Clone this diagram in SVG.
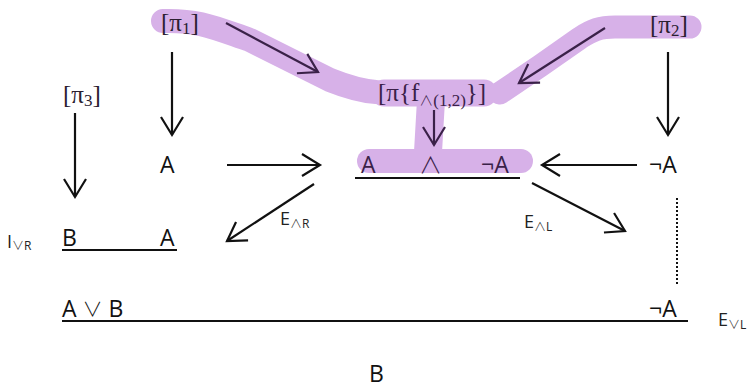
<svg xmlns="http://www.w3.org/2000/svg" width="747" height="390" viewBox="0 0 747 390">
<defs>
<marker id="ahd" markerUnits="userSpaceOnUse" markerWidth="24" markerHeight="26" refX="19" refY="12" orient="auto" overflow="visible">
<path d="M1,1 L19,12 L1,23" fill="none" stroke="#3a2148" stroke-width="2.2"/>
</marker>
<marker id="ahk" markerUnits="userSpaceOnUse" markerWidth="24" markerHeight="26" refX="19" refY="12" orient="auto" overflow="visible">
<path d="M1,1 L19,12 L1,23" fill="none" stroke="#111" stroke-width="2.2"/>
</marker>
</defs>
<style>
.hl{fill:none;stroke:#d7b1e8;stroke-linecap:round;stroke-linejoin:round}
.s{font-family:"Open Sans","Liberation Sans",sans-serif;font-size:23px;fill:#111}
.sd{fill:#3a2148}
.op{font-family:"Noto Sans CJK JP","DejaVu Sans",sans-serif;font-weight:300}
.r{font-family:"Liberation Serif","DejaVu Serif",serif;font-size:25px;fill:#2a2030}
.rd{fill:#3a2148}
.lb{font-family:"Open Sans","Liberation Sans",sans-serif;font-size:18px;fill:#222}
.sub{font-size:12px}
.ln{stroke:#111;stroke-width:2.2;fill:none}
.arr{stroke:#111;stroke-width:2.2;fill:none;marker-end:url(#ahk)}
.arrd{stroke:#3a2148;stroke-width:2.2;fill:none;marker-end:url(#ahd)}
</style>
<rect width="747" height="390" fill="#fff"/>
<g id="highlight">
<path class="hl" stroke-width="24" d="M163,21 C200,20 215,28 250,40 L330,80 C350,88 362,91 376,92"/>
<path class="hl" stroke-width="27" d="M384,93 L484,93"/>
<path class="hl" stroke-width="23" d="M500,93 L540,66 L580,38 C592,30 600,27 615,27 L690,27"/>
<path class="hl" stroke-width="28" d="M431,100 L428,152"/>
<path class="hl" stroke-width="24" d="M369,161 L521,161"/>
</g>
<g id="connectors">
<line class="arrd" x1="226" y1="23" x2="318" y2="72"/>
<line class="arrd" x1="605" y1="28" x2="519" y2="83"/>
<line class="arrd" x1="434" y1="110" x2="434" y2="145"/>
<line class="arr" x1="172" y1="52" x2="172" y2="135"/>
<line class="arr" x1="668" y1="52" x2="668" y2="135"/>
<line class="arr" x1="75" y1="113" x2="75" y2="197"/>
<line class="arr" x1="227" y1="165" x2="320" y2="165"/>
<line class="arr" x1="637" y1="165" x2="542" y2="165"/>
<line class="arr" x1="314" y1="184" x2="227" y2="241"/>
<line class="arr" x1="532" y1="183" x2="625" y2="231"/>
<line x1="677" y1="198" x2="677" y2="284" stroke="#111" stroke-width="2" stroke-dasharray="2,2"/>
<line class="ln" x1="355" y1="178" x2="520" y2="178"/>
<line class="ln" x1="62" y1="250" x2="177" y2="250"/>
<line class="ln" x1="62" y1="321" x2="688" y2="321"/>
</g>
<g id="pi1"><text class="r" x="161" y="31">[π<tspan font-size="17" dy="3">1</tspan><tspan dy="-3">]</tspan></text></g>
<g id="pi2"><text class="r" x="650" y="33">[π<tspan font-size="17" dy="3">2</tspan><tspan dy="-3">]</tspan></text></g>
<g id="pi3"><text class="r" x="63" y="103">[π<tspan font-size="17" dy="3">3</tspan><tspan dy="-3">]</tspan></text></g>
<g id="pif"><text class="r rd" x="378" y="101">[π{f<tspan class="op" font-size="14" dy="4">∧</tspan><tspan font-size="17" dy="1">(1,2)</tspan><tspan dy="-5">}]</tspan></text></g>
<g id="A1"><text class="s" x="160" y="173">A</text></g>
<g id="conj"><text class="s sd" x="361" y="173">A</text><text class="s sd op" x="419" y="173" font-size="20">∧</text><text class="s sd" x="481" y="173">¬A</text></g>
<g id="notA1"><text class="s" x="649" y="173">¬A</text></g>
<g id="BA"><text class="s" x="62" y="246">B</text><text class="s" x="160" y="246">A</text></g>
<g id="IvR"><text class="lb" x="7" y="248">I<tspan class="op sub" dy="2">∨</tspan><tspan class="sub">R</tspan></text></g>
<g id="EaR"><text class="lb" x="280" y="225">E<tspan class="op sub" dy="3">∧</tspan><tspan class="sub">R</tspan></text></g>
<g id="EaL"><text class="lb" x="524" y="228">E<tspan class="op sub" dy="3">∧</tspan><tspan class="sub">L</tspan></text></g>
<g id="AvB"><text class="s" x="62" y="317">A <tspan class="op" font-size="20">∨</tspan> B</text></g>
<g id="notA2"><text class="s" x="649" y="317">¬A</text></g>
<g id="EvL"><text class="lb" x="718" y="326">E<tspan class="op sub" dy="3">∨</tspan><tspan class="sub">L</tspan></text></g>
<g id="Bconc"><text class="s" x="369" y="382">B</text></g>
</svg>
